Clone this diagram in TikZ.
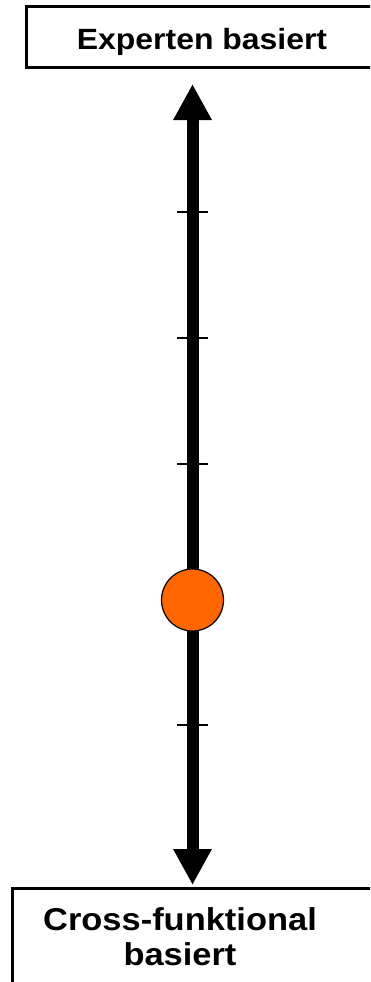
\documentclass[tikz,border=0pt]{standalone}
\usepackage{fontspec}
\setmainfont{Liberation Sans}[FakeStretch=1.09]
\usetikzlibrary{arrows.meta}
\definecolor{dotorange}{RGB}{255,102,0}
\tikzset{
  boxtext/.style={font=\bfseries, align=center, inner sep=0pt, anchor=base},
  frame/.style={line width=3pt},
  axis/.style={line width=12pt,
    {Triangle[length=36pt,width=36pt]}-{Triangle[length=36pt,width=36pt]}},
  tickline/.style={line width=1.5pt},
  dot/.style={circle, draw, line width=1.2pt, fill=dotorange,
    minimum size=62pt, inner sep=0pt},
}
\begin{document}
\begin{tikzpicture}[x=1pt,y=-1pt]
    \useasboundingbox (0,0) rectangle (370,982);
    % frames, cut off at the right
    \begin{scope}
        \clip (0,0) rectangle (370,982);
        \draw[frame] (26,7) rectangle (380,68);
        \draw[frame] (12.5,888) rectangle (380,995);
    \end{scope}
    \node[boxtext, font=\bfseries\fontsize{29.3}{32}\selectfont]
        (expert) at (202,49) {Experten basiert};
    \node[boxtext, font=\bfseries\fontsize{31.6}{35}\selectfont]
        (cross) at (180,965) {Cross-funktional\\basiert};
    % scale
    \coordinate (up) at (192.5,84);
    \coordinate (down) at (192.5,885);
    \draw[axis] (down) -- (up);
    \foreach \y in {212,338,464,725}
        \draw[tickline] (177,\y) -- (208,\y);
    \node[dot] (now) at (192.5,600) {};
\end{tikzpicture}
\end{document}
